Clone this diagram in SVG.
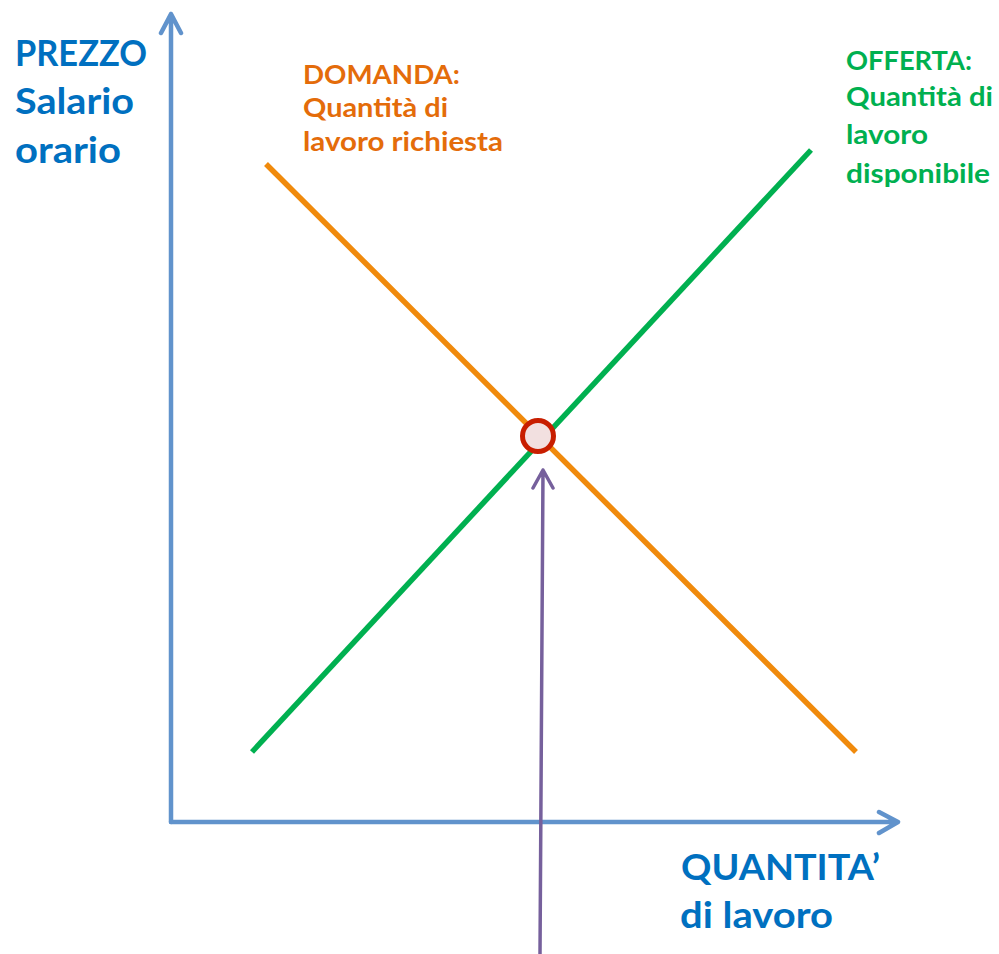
<svg xmlns="http://www.w3.org/2000/svg" width="999" height="954" viewBox="0 0 999 954">
<style>
.t{font-family:Lato,"Open Sans","Liberation Sans",sans-serif;font-weight:bold}
.big{font-size:37px;fill:#0070C0}
.dem{font-size:27px;fill:#E46C0A}
.sup{font-size:27px;fill:#00B050}
.ax{stroke:#6193CC;stroke-width:4.5;fill:none;stroke-linecap:round;stroke-linejoin:round}
</style>
<rect width="999" height="954" fill="#ffffff"/>
<g id="connectors">
  <g id="axes">
    <path class="ax" d="M171,822 V14 M161,33 L171,14 L181,33"/>
    <path class="ax" d="M171,822 H898 M879,812 L898,822 L879,833"/>
  </g>
  <line id="domanda-line" x1="266" y1="164" x2="856" y2="752" stroke="#F08A0C" stroke-width="5.5"/>
  <line id="offerta-line" x1="252" y1="752" x2="811" y2="150" stroke="#00B050" stroke-width="5.5"/>
  <path id="pointer" d="M540,954 L543,470 M533,488 L543,470 L553,488" stroke="#76609C" stroke-width="3.5" fill="none" stroke-linecap="round" stroke-linejoin="round"/>
</g>
<g id="equilibrium">
  <circle cx="538" cy="436" r="15.5" fill="#F2E0E0" stroke="#C81E00" stroke-width="5"/>
</g>
<g id="label-prezzo">
  <text class="t big" x="15" y="66" textLength="132" lengthAdjust="spacingAndGlyphs">PREZZO</text>
  <text class="t big" x="15" y="114" textLength="119" lengthAdjust="spacingAndGlyphs">Salario</text>
  <text class="t big" x="15" y="163" textLength="106" lengthAdjust="spacingAndGlyphs">orario</text>
</g>
<g id="label-quantita">
  <text class="t big" x="681" y="880" textLength="199" lengthAdjust="spacingAndGlyphs">QUANTITA’</text>
  <text class="t big" x="680" y="928" textLength="153" lengthAdjust="spacingAndGlyphs">di lavoro</text>
</g>
<g id="label-domanda">
  <text class="t dem" x="303" y="84" textLength="157" lengthAdjust="spacingAndGlyphs">DOMANDA:</text>
  <text class="t dem" x="303" y="117" textLength="145" lengthAdjust="spacingAndGlyphs">Quantità di</text>
  <text class="t dem" x="303" y="151" textLength="200" lengthAdjust="spacingAndGlyphs">lavoro richiesta</text>
</g>
<g id="label-offerta">
  <text class="t sup" x="846" y="70" textLength="126" lengthAdjust="spacingAndGlyphs">OFFERTA:</text>
  <text class="t sup" x="846" y="106" textLength="147" lengthAdjust="spacingAndGlyphs">Quantità di</text>
  <text class="t sup" x="846" y="144" textLength="82" lengthAdjust="spacingAndGlyphs">lavoro</text>
  <text class="t sup" x="846" y="183" textLength="144" lengthAdjust="spacingAndGlyphs">disponibile</text>
</g>
</svg>
